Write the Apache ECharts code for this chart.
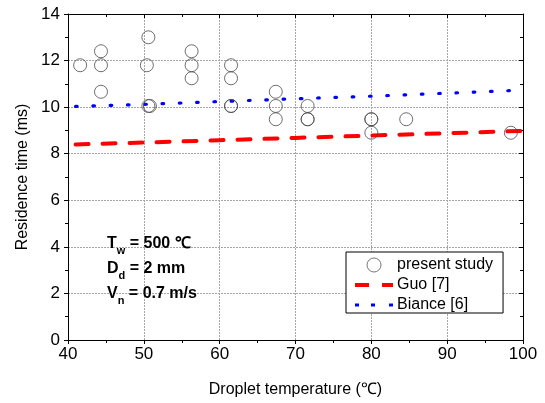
<!DOCTYPE html>
<html>
<head>
<meta charset="utf-8">
<script src="https://cdn.jsdelivr.net/npm/echarts@6/dist/echarts.min.js"></script>
<style>html,body{margin:0;padding:0;background:#fff}#c{width:545px;height:403px}</style>
</head>
<body>
<div id="c"></div>
<script>
// Measured data (present study)
var studyTemp = [41.6, 44.35, 44.35, 44.35, 50.6, 50.4, 50.6, 50.8, 56.3, 56.3, 56.3, 61.5, 61.5, 61.5, 61.5, 67.4, 67.4, 67.4, 71.6, 71.6, 71.6, 80.0, 80.0, 80.0, 84.6, 98.4];
var studyTime = [11.8, 12.4, 11.8, 10.66, 13.0, 11.8, 10.05, 10.05, 12.4, 11.8, 11.24, 11.8, 11.24, 10.05, 10.05, 10.66, 10.05, 9.48, 10.05, 9.48, 9.48, 9.48, 9.48, 8.9, 9.48, 8.9];
// Guo [7] model
var guoTemp = [41, 50, 60, 70, 80, 90, 100];
var guoTime = [8.4, 8.48, 8.58, 8.68, 8.78, 8.88, 8.98];
// Biance [6] model
var bianceTemp = [41, 50, 60, 70, 80, 90, 100];
var bianceTime = [10.03, 10.12, 10.24, 10.36, 10.47, 10.6, 10.73];

var FONT = '"Liberation Sans", Arial, sans-serif';
function zip(a, b) { return a.map(function (v, i) { return [v, b[i]]; }); }

var chart = echarts.init(document.getElementById('c'), null, {renderer: 'canvas'});
var axisLine = {show: true, onZero: false, lineStyle: {color: '#000', width: 1}};
var gridLine = {show: true, lineStyle: {color: '#a6a6a6', type: [2, 1], width: 1}};
chart.setOption({
  animation: false,
  backgroundColor: '#fff',
  grid: {left: 68, right: 22, top: 14, bottom: 63},
  xAxis: [{
    type: 'value', min: 40, max: 100, interval: 10, position: 'bottom',
    axisLine: axisLine,
    axisTick: {show: true, inside: false, length: 4, lineStyle: {color: '#000'}},
    minorTick: {show: true, splitNumber: 2, length: 3, lineStyle: {color: '#000'}},
    axisLabel: {color: '#000', fontSize: 17, fontFamily: FONT, margin: 6},
    splitLine: gridLine,
    name: 'Droplet temperature (\u2103)', nameLocation: 'middle', nameGap: 42,
    nameTextStyle: {color: '#000', fontSize: 16, fontFamily: FONT}
  }, {
    type: 'value', min: 40, max: 100, interval: 10, position: 'top',
    axisLine: axisLine,
    axisTick: {show: true, inside: true, length: 4, lineStyle: {color: '#000'}},
    minorTick: {show: true, splitNumber: 2, length: 3, lineStyle: {color: '#000'}},
    axisLabel: {show: false}, splitLine: {show: false}
  }],
  yAxis: [{
    type: 'value', min: 0, max: 14, interval: 2, position: 'left',
    axisLine: axisLine,
    axisTick: {show: true, inside: false, length: 4, lineStyle: {color: '#000'}},
    minorTick: {show: true, splitNumber: 2, length: 3, lineStyle: {color: '#000'}},
    axisLabel: {color: '#000', fontSize: 17, fontFamily: FONT, margin: 8},
    splitLine: gridLine,
    name: 'Residence time (ms)', nameLocation: 'middle', nameGap: 37,
    nameTextStyle: {color: '#000', fontSize: 16, fontFamily: FONT}
  }, {
    type: 'value', min: 0, max: 14, interval: 2, position: 'right',
    axisLine: axisLine,
    axisTick: {show: true, inside: true, length: 4, lineStyle: {color: '#000'}},
    minorTick: {show: true, splitNumber: 2, length: 3, lineStyle: {color: '#000'}},
    axisLabel: {show: false}, splitLine: {show: false}
  }],
  legend: {
    orient: 'vertical', left: 346, top: 252,
    padding: [5, 10, 0, 9], itemGap: 4, itemWidth: 38, itemHeight: 14,
    borderColor: '#000', borderWidth: 1, backgroundColor: '#fff',
    textStyle: {color: '#000', fontSize: 16, fontFamily: FONT, padding: [0, 0, 0, -1]},
    data: [
      {name: 'present study', itemStyle: {borderColor: '#555', borderWidth: 1}},
      {name: 'Guo [7]', icon: 'path://M0,0h14v4h-14z M27,0h11v4h-11z', symbolKeepAspect: true,
       itemStyle: {color: '#ff0000', borderWidth: 0}},
      {name: 'Biance [6]', icon: 'path://M0,0h4v3h-4z M16,0h4v3h-4z M34,0h4v3h-4z', symbolKeepAspect: true,
       itemStyle: {color: '#0000ff', borderWidth: 0}}
    ]
  },
  series: [{
    name: 'present study', type: 'scatter', data: zip(studyTemp, studyTime),
    symbol: 'circle', symbolSize: 13,
    itemStyle: {color: 'rgba(255,255,255,0)', borderColor: '#4a4a4a', borderWidth: 1},
    z: 3
  }, {
    name: 'Guo [7]', type: 'line', data: zip(guoTemp, guoTime),
    showSymbol: false, symbol: 'none',
    lineStyle: {color: '#ff0000', width: 4, type: [13, 14], cap: 'round'},
    itemStyle: {color: '#ff0000'}, z: 2
  }, {
    name: 'Biance [6]', type: 'line', data: zip(bianceTemp, bianceTime),
    showSymbol: false, symbol: 'none',
    lineStyle: {color: '#0000ff', width: 3.2, type: [1.6, 15.7], cap: 'round'},
    itemStyle: {color: '#0000ff'}, z: 2
  }],
  graphic: [{
    type: 'text', left: 107, top: 236, z: 10,
    style: {
      text: '{b|T}{s|w}{b| = 500 \u2103}\n{b|D}{s|d}{b| = 2 mm}\n{b|V}{s|n}{b| = 0.7 m/s}',
      rich: {
        b: {fontSize: 16, fontWeight: 'bold', fontFamily: FONT, fill: '#000', lineHeight: 25},
        s: {fontSize: 11, fontWeight: 'bold', fontFamily: FONT, fill: '#000', lineHeight: 14, verticalAlign: 'bottom'}
      }
    }
  }]
});
</script>
</body>
</html>
